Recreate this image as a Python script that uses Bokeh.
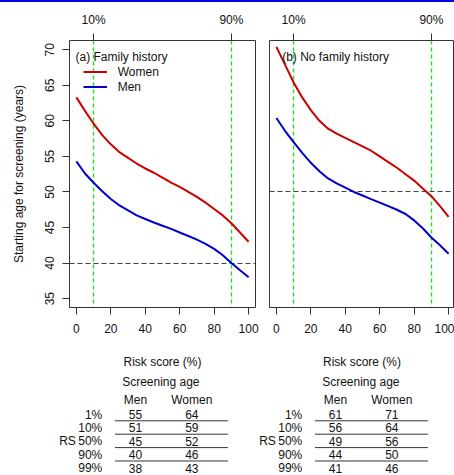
import numpy as np
from bokeh.plotting import figure
from bokeh.models import Range1d, FixedTicker, LinearAxis, Label, Div
from bokeh.layouts import column, row
from bokeh.embed import file_html
from bokeh.resources import INLINE
from bokeh.core.properties import value

# ---------------- data ----------------
risk = [0, 5, 10, 15, 20, 25, 30, 35, 40, 45, 50, 55, 60, 65, 70, 75, 80, 85, 90, 95, 100]
fh_women = [63.3, 61.4, 59.6, 58.0, 56.7, 55.6, 54.8, 54.0, 53.3, 52.7, 52.0, 51.3, 50.7,
            50.0, 49.3, 48.5, 47.6, 46.7, 45.6, 44.3, 43.0]
fh_men = [54.3, 52.6, 51.3, 50.1, 49.0, 48.1, 47.4, 46.7, 46.2, 45.7, 45.25, 44.8, 44.3,
          43.8, 43.3, 42.7, 42.0, 41.1, 40.0, 39.0, 38.0]
nfh_women = [70.4, 67.9, 65.4, 63.3, 61.5, 60.0, 58.9, 58.2, 57.6, 57.0, 56.4, 55.8, 55.0,
             54.2, 53.4, 52.5, 51.6, 50.5, 49.4, 48.0, 46.5]
nfh_men = [60.4, 58.6, 57.0, 55.5, 54.1, 52.9, 51.9, 51.2, 50.6, 50.0, 49.5, 49.0, 48.5,
           48.0, 47.5, 46.9, 46.0, 44.9, 43.6, 42.5, 41.3]

quantiles = [10, 90]
quantile_labels = ["10%", "90%"]
thresholds = [40, 50]          # (a), (b)
x_ticks = [0, 20, 40, 60, 80, 100]
y_ticks = [35, 40, 45, 50, 55, 60, 65, 70]

table_rows = ["1%", "10%", "50%", "90%", "99%"]
fh_table_men = [55, 51, 45, 40, 38]
fh_table_women = [64, 59, 52, 46, 43]
nfh_table_men = [61, 56, 49, 44, 41]
nfh_table_women = [71, 64, 56, 50, 46]

# ---------------- style ----------------
FONT = "Liberation Sans"
FS = "12px"
TXT = "#111111"
RED = "#CD0000"
BLUE = "#0000CD"
GREEN = "#22dd22"
GREY = "#333333"

PX_PER_UNIT = 186 / 108.0
yr = Range1d(33.75, 71.3)


def style_axis(ax):
    ax.axis_line_color = None
    ax.major_tick_in = 0
    ax.major_tick_out = 7
    ax.major_tick_line_color = GREY
    ax.minor_tick_line_color = None
    ax.major_label_text_font = FONT
    ax.major_label_text_font_size = FS
    ax.major_label_text_color = TXT
    ax.axis_label_text_font = FONT
    ax.axis_label_text_font_size = FS
    ax.axis_label_text_color = TXT
    ax.axis_label_text_font_style = "normal"


def panel(width, bl, br, with_y, women, men, thr, title, title_x, legend):
    frame_w = width - bl - br
    xr = Range1d(-4, -4 + frame_w / PX_PER_UNIT)
    p = figure(width=width, height=370, x_range=xr, y_range=yr,
               output_backend="svg", toolbar_location=None,
               y_axis_location="left" if with_y else None,
               min_border_left=bl, min_border_right=br,
               min_border_top=38, min_border_bottom=65)
    p.xgrid.visible = False
    p.ygrid.visible = False
    p.outline_line_color = GREY
    p.outline_line_width = 1
    p.background_fill_color = "white"
    p.border_fill_color = "white"

    xa = p.xaxis[0]
    xa.ticker = FixedTicker(ticks=x_ticks)
    xa.axis_label = "Risk score (%)"
    xa.major_label_standoff = 9
    xa.axis_label_standoff = 19
    style_axis(xa)

    top = LinearAxis(ticker=FixedTicker(ticks=quantiles),
                     major_label_overrides={q: l for q, l in zip(quantiles, quantile_labels)})
    top.major_label_standoff = 7
    style_axis(top)
    p.add_layout(top, "above")

    if with_y:
        ya = p.yaxis[0]
        ya.ticker = FixedTicker(ticks=y_ticks)
        ya.axis_label = "Starting age for screening (years)"
        ya.major_label_orientation = "vertical"
        ya.major_label_standoff = 8
        ya.axis_label_standoff = 17
        style_axis(ya)

    p.vspan(x=quantiles, line_color=GREEN, line_dash="4 3", line_width=1.4)
    p.hspan(y=[thr], line_color="#444444", line_dash="5 3", line_width=1)

    if legend:
        p.line(risk, women, line_color=RED, line_width=2, legend_label="Women")
        p.line(risk, men, line_color=BLUE, line_width=2, legend_label="Men")
        lg = p.legend[0]
        lg.location = (13.7, 212.8)
        lg.padding = 0
        lg.margin = 0
        lg.spacing = 0
        lg.label_height = 15
        lg.glyph_height = 15
        lg.glyph_width = 24
        lg.label_standoff = 11
        lg.border_line_alpha = 0
        lg.background_fill_alpha = 0
        lg.label_text_font = FONT
        lg.label_text_font_size = FS
        lg.label_text_color = TXT
    else:
        p.line(risk, women, line_color=RED, line_width=2)
        p.line(risk, men, line_color=BLUE, line_width=2)

    p.add_layout(Label(x=title_x, y=251, x_units="screen", y_units="screen",
                       text=title, text_baseline="middle", text_font=FONT,
                       text_font_size=FS, text_color=TXT))
    return p


# one figure holding both summary tables; columns: Men = 1, Women = 2 (per table)
COL_PX = 56.3
ROW_PX = 13.4
T_H = 103
t_x0 = 1 - 135 / COL_PX
t_rtop = -42 / ROW_PX
tab = figure(width=454, height=T_H,
             x_range=Range1d(t_x0, t_x0 + 454 / COL_PX),
             y_range=Range1d(t_rtop + T_H / ROW_PX, t_rtop),
             output_backend="svg", toolbar_location=None,
             x_axis_location=None, y_axis_location=None,
             min_border=0, min_border_left=0, min_border_right=0,
             min_border_top=0, min_border_bottom=0)
tab.xgrid.visible = False
tab.ygrid.visible = False
tab.outline_line_color = None
common = dict(text_font=value(FONT), text_font_size=value(FS), text_color=TXT,
              text_baseline="middle")
rows_idx = list(range(len(table_rows)))
for base, men_vals, women_vals in [(0.0, fh_table_men, fh_table_women),
                                   (200 / COL_PX, nfh_table_men, nfh_table_women)]:
    tab.text(x=[base + 1.45], y=[-2.41], text=["Screening age"], text_align="center", **common)
    tab.text(x=[base + 1, base + 2], y=[-1.05, -1.05], text=["Men", "Women"],
             text_align="center", **common)
    tab.text(x=[base + 0.41] * len(rows_idx), y=rows_idx, text=table_rows,
             text_align="right", **common)
    tab.text(x=[base - 0.06], y=[2], text=["RS"], text_align="right", **common)
    tab.text(x=[base + 1] * len(rows_idx), y=rows_idx, text=[str(v) for v in men_vals],
             text_align="center", **common)
    tab.text(x=[base + 2] * len(rows_idx), y=rows_idx, text=[str(v) for v in women_vals],
             text_align="center", **common)
    tab.segment(x0=[base + 0.635] * 4, x1=[base + 2.64] * 4,
                y0=[r + 0.47 for r in rows_idx[:-1]], y1=[r + 0.47 for r in rows_idx[:-1]],
                line_color=GREY, line_width=1)

bar = Div(text="", width=454, height=2, margin=(0, 0, 0, 0),
          styles={"background-color": "#0000ee", "padding": "0px", "margin": "0px",
                  "overflow": "hidden"})

p1 = panel(262, 69, 7, True, fh_women, fh_men, thresholds[0], "(a) Family history", 6, True)
p2 = panel(192, 7, 0, False, nfh_women, nfh_men, thresholds[1], "(b) No family history", 12.7, False)

layout = column(bar, row(p1, p2), tab)
open("out.html", "w").write(file_html(layout, INLINE))
